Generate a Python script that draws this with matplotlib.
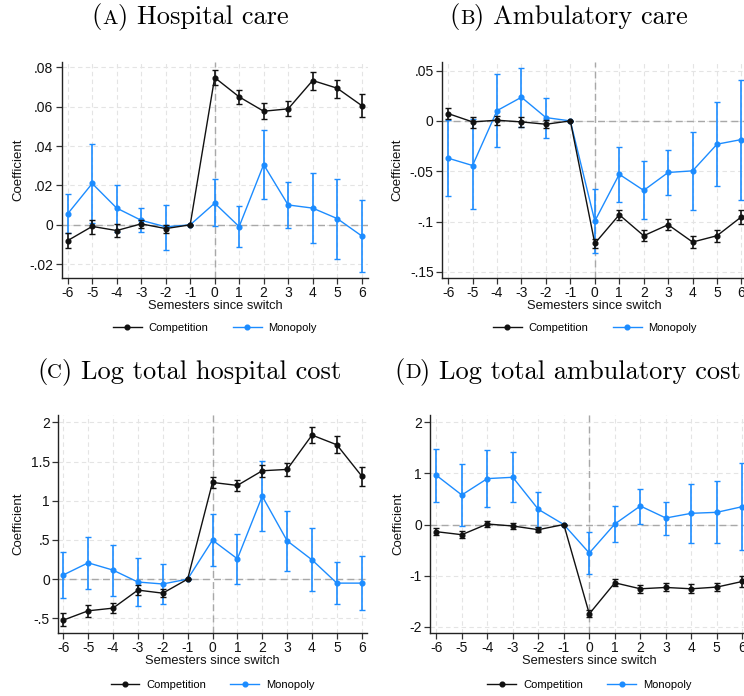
import matplotlib
matplotlib.use("Agg")
import matplotlib.pyplot as plt
from matplotlib.offsetbox import TextArea, HPacker, AnnotationBbox

plt.rcParams["font.family"] = ["Liberation Sans", "DejaVu Sans"]

semesters = [-6, -5, -4, -3, -2, -1, 0, 1, 2, 3, 4, 5, 6]

# (A) Hospital care
hosp_comp = [-0.0080, -0.0008, -0.0029, 0.0005, -0.0019, 0.0, 0.0748, 0.0650, 0.0577, 0.0589, 0.0733, 0.0694, 0.0606]
hosp_comp_lo = [-0.0117, -0.0047, -0.0061, -0.0015, -0.0039, 0.0, 0.0709, 0.0613, 0.0540, 0.0552, 0.0687, 0.0645, 0.0550]
hosp_comp_hi = [-0.0041, 0.0027, 0.0002, 0.0025, 0.0001, 0.0, 0.0785, 0.0687, 0.0618, 0.0629, 0.0777, 0.0738, 0.0662]
hosp_mono = [0.0056, 0.0210, 0.0085, 0.0023, -0.0010, 0.0, 0.0110, -0.0009, 0.0306, 0.0101, 0.0085, 0.0032, -0.0056]
hosp_mono_lo = [-0.0041, 0.0008, -0.0034, -0.0037, -0.0129, 0.0, -0.0005, -0.0115, 0.0132, -0.0017, -0.0093, -0.0171, -0.0237]
hosp_mono_hi = [0.0157, 0.0411, 0.0203, 0.0085, 0.0103, 0.0, 0.0232, 0.0098, 0.0484, 0.0218, 0.0261, 0.0234, 0.0124]

# (B) Ambulatory care
amb_comp = [0.0073, -0.0010, 0.0007, -0.0010, -0.0033, 0.0, -0.1217, -0.0932, -0.1140, -0.1031, -0.1203, -0.1140, -0.0952]
amb_comp_lo = [0.0017, -0.0066, -0.0040, -0.0056, -0.0069, 0.0, -0.1263, -0.0982, -0.1197, -0.1084, -0.1263, -0.1200, -0.1021]
amb_comp_hi = [0.0129, 0.0036, 0.0053, 0.0036, 0.0007, 0.0, -0.1174, -0.0886, -0.1084, -0.0979, -0.1140, -0.1084, -0.0883]
amb_mono = [-0.0370, -0.0443, 0.0102, 0.0235, 0.0033, 0.0, -0.0995, -0.0530, -0.0690, -0.0512, -0.0496, -0.0231, -0.0185]
amb_mono_lo = [-0.0744, -0.0870, -0.0258, -0.0056, -0.0165, 0.0, -0.1310, -0.0803, -0.0979, -0.0737, -0.0889, -0.0651, -0.0787]
amb_mono_hi = [0.0010, 0.0023, 0.0466, 0.0529, 0.0228, 0.0, -0.0680, -0.0264, -0.0403, -0.0288, -0.0106, 0.0185, 0.0410]

# (C) Log total hospital cost
hcost_comp = [-0.523, -0.404, -0.370, -0.140, -0.179, 0.0, 1.233, 1.195, 1.382, 1.399, 1.837, 1.713, 1.314]
hcost_comp_lo = [-0.604, -0.485, -0.438, -0.208, -0.234, 0.0, 1.161, 1.122, 1.301, 1.310, 1.730, 1.603, 1.190]
hcost_comp_hi = [-0.438, -0.327, -0.302, -0.081, -0.123, 0.0, 1.301, 1.267, 1.458, 1.484, 1.943, 1.824, 1.433]
hcost_mono = [0.053, 0.208, 0.115, -0.037, -0.062, 0.0, 0.497, 0.259, 1.058, 0.489, 0.246, -0.051, -0.051]
hcost_mono_lo = [-0.245, -0.132, -0.210, -0.344, -0.317, 0.0, 0.166, -0.064, 0.608, 0.106, -0.157, -0.323, -0.395]
hcost_mono_hi = [0.342, 0.540, 0.440, 0.268, 0.189, 0.0, 0.833, 0.578, 1.509, 0.872, 0.650, 0.213, 0.293]

# (D) Log total ambulatory cost
acost_comp = [-0.140, -0.199, 0.010, -0.029, -0.101, 0.0, -1.746, -1.139, -1.256, -1.230, -1.256, -1.223, -1.113]
acost_comp_lo = [-0.212, -0.271, -0.055, -0.088, -0.140, 0.0, -1.817, -1.204, -1.334, -1.302, -1.341, -1.308, -1.227]
acost_comp_hi = [-0.069, -0.127, 0.075, 0.023, -0.055, 0.0, -1.674, -1.073, -1.178, -1.152, -1.171, -1.139, -1.002]
acost_mono = [0.962, 0.577, 0.897, 0.923, 0.297, 0.0, -0.558, 0.010, 0.362, 0.127, 0.219, 0.238, 0.349]
acost_mono_lo = [0.434, -0.029, 0.336, 0.447, -0.049, 0.0, -0.969, -0.343, 0.016, -0.199, -0.369, -0.369, -0.506]
acost_mono_hi = [1.484, 1.178, 1.465, 1.413, 0.636, 0.0, -0.140, 0.369, 0.701, 0.447, 0.799, 0.845, 1.197]

panel_letters = ["A", "B", "C", "D"]
panel_titles = ["Hospital care", "Ambulatory care", "Log total hospital cost", "Log total ambulatory cost"]
series_names = ["Competition", "Monopoly"]

yticks = [
    ([-0.02, 0, 0.02, 0.04, 0.06, 0.08], ["-.02", "0", ".02", ".04", ".06", ".08"]),
    ([-0.15, -0.1, -0.05, 0, 0.05], ["-.15", "-.1", "-.05", "0", ".05"]),
    ([-0.5, 0, 0.5, 1, 1.5, 2], ["-.5", "0", ".5", "1", "1.5", "2"]),
    ([-2, -1, 0, 1, 2], ["-2", "-1", "0", "1", "2"]),
]

panels = [
    (hosp_comp, hosp_comp_lo, hosp_comp_hi, hosp_mono, hosp_mono_lo, hosp_mono_hi),
    (amb_comp, amb_comp_lo, amb_comp_hi, amb_mono, amb_mono_lo, amb_mono_hi),
    (hcost_comp, hcost_comp_lo, hcost_comp_hi, hcost_mono, hcost_mono_lo, hcost_mono_hi),
    (acost_comp, acost_comp_lo, acost_comp_hi, acost_mono, acost_mono_lo, acost_mono_hi),
]

W, H = 744, 696
fig = plt.figure(figsize=(W / 100, H / 100), dpi=100)

# axes rectangles in pixels: left, top, right, bottom
rects_px = [
    (61.7, 62, 368.0, 278),
    (442.0, 62, 747.6, 278),
    (58.3, 415, 366.7, 633),
    (430.3, 415, 748.3, 633),
]
xlims = [(-6.245, 6.26), (-6.25, 6.25), (-6.2, 6.2), (-6.235, 6.235)]
ylims = [(-0.027, 0.0827), (-0.156, 0.0585), (-0.687, 2.093), (-2.12, 2.14)]
ylabel_x = [-0.122, -0.128, -0.110, -0.083]
title_pos = [(190, 17), (569, 17), (189, 372), (568, 372)]
legend_y = [-0.232, -0.232, -0.239, -0.239]

BLACK = "#111111"
BLUE = "#1c8cff"
GRID = "#e4e4e4"
REF = "#a8a8a8"
TITLE_FS = 19

for i, (l, t, r, b) in enumerate(rects_px):
    ax = fig.add_axes([l / W, 1 - b / H, (r - l) / W, (b - t) / H])
    comp, comp_lo, comp_hi, mono, mono_lo, mono_hi = panels[i]

    ax.set_xlim(*xlims[i])
    ax.set_ylim(*ylims[i])
    ax.set_xticks(semesters)
    ax.set_xticklabels([str(s) for s in semesters])
    ax.set_yticks(yticks[i][0])
    ax.set_yticklabels(yticks[i][1])

    ax.grid(True, linestyle=(0, (4, 3)), color=GRID, linewidth=0.8, zorder=0)
    ax.set_axisbelow(True)
    ax.axhline(0, color=REF, linestyle=(0, (5, 3)), linewidth=1.0, zorder=1)
    ax.axvline(0, color=REF, linestyle=(0, (5, 3)), linewidth=1.0, zorder=1)

    for vals, lo, hi, color, name, z in [
        (comp, comp_lo, comp_hi, BLACK, series_names[0], 4),
        (mono, mono_lo, mono_hi, BLUE, series_names[1], 3),
    ]:
        err = [[v - a for v, a in zip(vals, lo)], [c - v for v, c in zip(vals, hi)]]
        ax.errorbar(semesters, vals, yerr=err, fmt="none", ecolor=color,
                    elinewidth=1.2, capsize=2.0, capthick=1.0, zorder=z)
        ax.plot(semesters, vals, color=color, linewidth=1.0, marker="o",
                markersize=3.4, label=name, zorder=z + 0.5)

    for side in ("top", "right"):
        ax.spines[side].set_visible(False)
    for side in ("left", "bottom"):
        ax.spines[side].set_color("#222222")
        ax.spines[side].set_linewidth(1.0)
    ax.tick_params(axis="both", direction="out", length=4, width=0.9,
                   color="#333333", labelsize=10, labelcolor="#111111", pad=2)

    ax.set_xlabel("Semesters since switch", fontsize=9.3, labelpad=0, color="#111111")
    ax.set_ylabel("Coefficient", fontsize=9.5, color="#111111")
    ax.yaxis.set_label_coords(ylabel_x[i], 0.5)

    ax.legend(loc="center", bbox_to_anchor=(0.5, legend_y[i]), ncol=2, frameon=False,
              fontsize=8, handlelength=2.6, columnspacing=2.2, handletextpad=0.6)

    # panel caption with small-caps letter
    parts = [
        TextArea("(", textprops=dict(family="cmr10", size=TITLE_FS)),
        TextArea(panel_letters[i], textprops=dict(family="cmr10", size=TITLE_FS * 0.78)),
        TextArea(") " + panel_titles[i], textprops=dict(family="cmr10", size=TITLE_FS)),
    ]
    box = HPacker(children=parts, align="baseline", pad=0, sep=0)
    px, py = title_pos[i]
    ab = AnnotationBbox(box, (px / W, 1 - py / H), xycoords="figure fraction",
                        box_alignment=(0.5, 0.5), frameon=False, pad=0,
                        annotation_clip=False)
    ax.add_artist(ab)

fig.savefig("out.png", dpi=100)
